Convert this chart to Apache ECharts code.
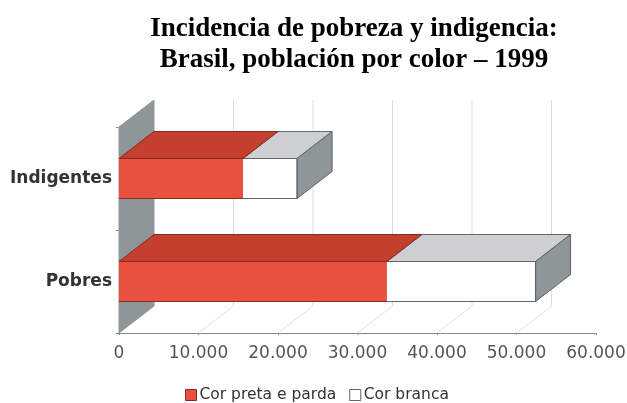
<!DOCTYPE html>
<html>
<head>
<meta charset="utf-8">
<style>
html, body { margin: 0; padding: 0; background: #fff; }
#chart { width: 627px; height: 403px; }
</style>
<script src="https://cdn.jsdelivr.net/npm/echarts@6/dist/echarts.min.js"></script>
</head>
<body>
<div id="chart"></div>
<script>
var categories = ['Pobres', 'Indigentes'];
var corPreta = [33700, 15600];
var corBranca = [18700, 6800];
var gridTicks = [10000, 20000, 30000, 40000, 50000];

// offset of the 3d depth, in pixels
var DX = 35, DY = -27;

function poly(points, fill, stroke) {
    return {
        type: 'polygon',
        shape: { points: points },
        style: { fill: fill, stroke: stroke, lineWidth: 1 }
    };
}

function line(p1, p2, color) {
    return {
        type: 'line',
        shape: { x1: p1[0], y1: p1[1], x2: p2[0], y2: p2[1] },
        style: { stroke: color, lineWidth: 1 }
    };
}

function renderWall(params, api) {
    var c = params.coordSys;
    var bottom = c.y + c.height;
    var x = api.coord([api.value(0), 0])[0];
    if (api.value(0) === 0) {
        return poly([[x, c.y], [x + DX, c.y + DY], [x + DX, bottom + DY], [x, bottom]], '#8f9699', '#8f9699');
    }
    return {
        type: 'group',
        children: [
            line([x, bottom], [x + DX, bottom + DY], '#e2e2e2'),
            line([x + DX, bottom + DY], [x + DX, c.y + DY], '#dcdcdc')
        ]
    };
}

function barRenderer(front, top, border, side) {
    return function (params, api) {
        var cat = api.value(0);
        var h = 40;
        var a = api.coord([api.value(1), cat]);
        var b = api.coord([api.value(2), cat]);
        var y0 = a[1] - h / 2, y1 = a[1] + h / 2;
        var children = [
            poly([[a[0], y0], [b[0], y0], [b[0], y1], [a[0], y1]], front, null),
            line([a[0], y1], [b[0], y1], border),
            line([a[0], y0], [b[0], y0], border),
            poly([[a[0], y0], [a[0] + DX, y0 + DY], [b[0] + DX, y0 + DY], [b[0], y0]], top, border)
        ];
        if (side) {
            children.push(poly([[b[0], y0], [b[0] + DX, y0 + DY], [b[0] + DX, y1 + DY], [b[0], y1]], '#8f9699', '#5c6366'));
            children.push(line([b[0], y0], [b[0], y1], '#5c6366'));
        }
        return { type: 'group', children: children };
    };
}

var wallData = [[0]].concat(gridTicks.map(function (t) { return [t]; }));
var pretaData = categories.map(function (c, i) { return [i, 0, corPreta[i]]; });
var brancaData = categories.map(function (c, i) { return [i, corPreta[i], corPreta[i] + corBranca[i]]; });

var myChart = echarts.init(document.getElementById('chart'));
myChart.setOption({
    animation: false,
    backgroundColor: '#fff',
    title: {
        text: 'Incidencia de pobreza y indigencia:\nBrasil, población por color – 1999',
        left: 349,
        top: 9,
        textAlign: 'center',
        textStyle: {
            fontFamily: 'Liberation Serif',
            fontWeight: 'bold',
            fontSize: 27,
            lineHeight: 31,
            color: '#000'
        }
    },
    legend: {
        left: 185,
        top: 387,
        itemWidth: 11,
        itemHeight: 11,
        itemGap: 13,
        padding: 0,
        textStyle: { fontFamily: 'DejaVu Sans', fontSize: 15.5, color: '#333', padding: [0, 0, 0, -2] },
        data: [
            { name: 'Cor preta e parda', icon: 'rect', itemStyle: { color: '#e85140', borderColor: '#8a2a1e', borderWidth: 1 } },
            { name: 'Cor branca', icon: 'rect', itemStyle: { color: '#fff', borderColor: '#666', borderWidth: 1 } }
        ]
    },
    grid: { left: 119, right: 31, top: 127, bottom: 70, outerBoundsMode: 'none' },
    xAxis: {
        type: 'value',
        min: 0,
        max: 60000,
        interval: 10000,
        splitLine: { show: false },
        axisLine: { show: true, lineStyle: { color: '#888' } },
        axisTick: { show: true, length: 2, lineStyle: { color: '#888' } },
        axisLabel: {
            margin: 12,
            fontFamily: 'DejaVu Sans',
            fontSize: 17,
            color: '#555',
            formatter: function (v) {
                return String(v).replace(/(\d)(\d{3})$/, '$1.$2');
            }
        }
    },
    yAxis: {
        type: 'category',
        data: categories,
        axisLine: { show: false },
        axisTick: { show: true, length: 3, lineStyle: { color: '#888' } },
        axisLabel: {
            margin: 7,
            fontFamily: 'DejaVu Sans',
            fontWeight: 'bold',
            fontSize: 17,
            color: '#333'
        }
    },
    series: [
        {
            name: 'wall',
            type: 'custom',
            renderItem: renderWall,
            data: wallData,
            encode: { x: 0 },
            silent: true,
            z: 1
        },
        {
            name: 'Cor branca',
            type: 'custom',
            renderItem: barRenderer('#fff', '#cdd0d2', '#666', true),
            data: brancaData,
            encode: { x: [1, 2], y: 0 },
            itemStyle: { color: '#fff' },
            z: 2
        },
        {
            name: 'Cor preta e parda',
            type: 'custom',
            renderItem: barRenderer('#e85140', '#c43f2d', '#8a2a1e', false),
            data: pretaData,
            encode: { x: [1, 2], y: 0 },
            itemStyle: { color: '#e85140' },
            z: 3
        }
    ]
});
</script>
</body>
</html>
